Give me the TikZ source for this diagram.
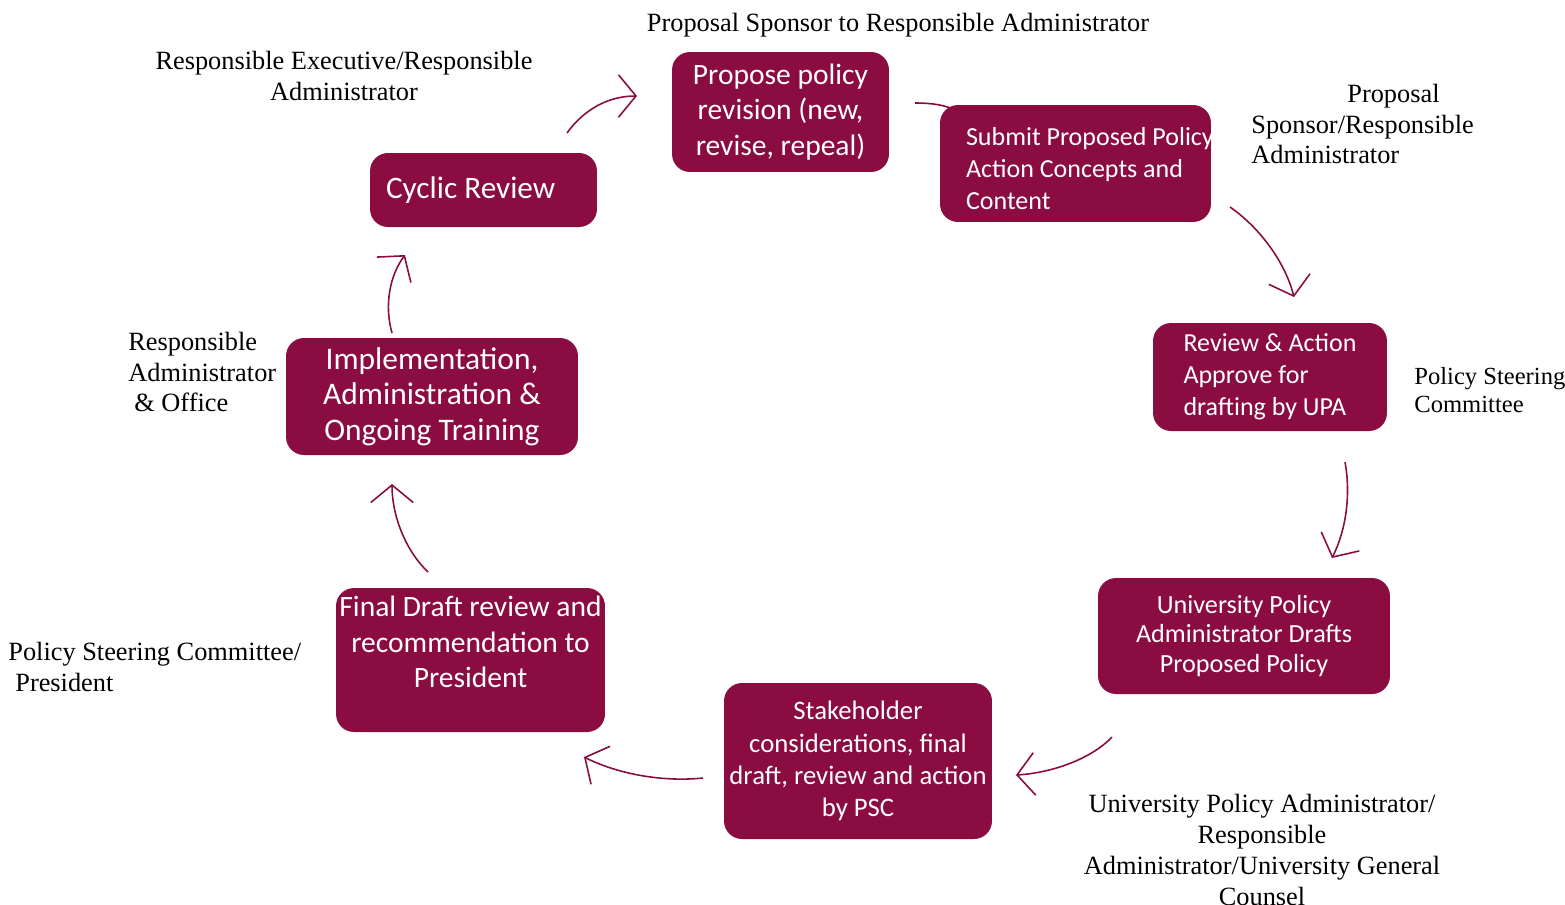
\documentclass[tikz,border=0pt]{standalone}
\usepackage{fontspec}
\setmainfont{Liberation Serif}
\newfontfamily\boxfont{Carlito}
\usetikzlibrary{arrows.meta}
\definecolor{upared}{RGB}{138,12,64}

\begin{document}
\begin{tikzpicture}[x=0.02cm,y=-0.02cm,
    stepbox/.style={rectangle,rounded corners=0.36cm,fill=upared,text=white,inner sep=0pt},
    flow/.style={draw=upared,line width=0.9pt,-{Straight Barb[length=0.35cm,width=0.85cm,line width=0.9pt]}},
    role/.style={inner sep=0pt,font=\fontsize{15}{17.6}\selectfont}]

      \useasboundingbox (0,0) rectangle (1565,904);

      \coordinate (link1) at (915,103);
      \coordinate (link2) at (955,110);
      \draw[draw=upared,line width=0.9pt] (link1) .. controls (932,103) and (945,105) .. (link2);

      \begin{scope}[every node/.style={stepbox}]
        \node (propose)     at (780.5,112)  [minimum width=4.34cm,minimum height=2.4cm,align=center,
                                             font=\boxfont\fontsize{16.8}{20.4}\selectfont]
                                            {Propose policy\\revision (new,\\revise, repeal)};
        \node (submit)      at (1075.5,163.5) [minimum width=5.42cm,minimum height=2.34cm,
                                             label={[text=white,align=left,text width=4.38cm,yshift=-0.1cm,
                                                     font=\boxfont\fontsize{14.8}{18.1}\selectfont]center:
                                                    \spaceskip=0pt\relax
                                                    \mbox{Submit Proposed Policy}\\\mbox{Action Concepts and}\\Content}]
                                            {};
        \node (review)      at (1270,377)   [minimum width=4.68cm,minimum height=2.16cm,align=left,
                                             font=\boxfont\fontsize{14.8}{18.2}\selectfont]
                                            {Review \& Action\\Approve for\\drafting by UPA};
        \node (drafts)      at (1244,636)   [minimum width=5.84cm,minimum height=2.32cm,align=center,
                                             font=\boxfont\fontsize{14.9}{16.8}\selectfont]
                                            {University Policy\\Administrator Drafts\\Proposed Policy};
        \node (stakeholder) at (858,761)    [minimum width=5.36cm,minimum height=3.12cm,align=center,
                                             font=\boxfont\fontsize{15.2}{18.3}\selectfont]
                                            {Stakeholder\\considerations, final\\draft, review and action\\by PSC};
        \node (final)       at (470.5,660)  [minimum width=5.38cm,minimum height=2.88cm,
                                             label={[text=white,align=center,yshift=0.36cm,
                                                     font=\boxfont\fontsize{16.8}{20.1}\selectfont]center:
                                                    Final Draft review and\\recommendation to\\President}]
                                            {};
        \node (implement)   at (432,396.5)  [minimum width=5.84cm,minimum height=2.34cm,align=center,
                                             font=\boxfont\fontsize{17.9}{20.1}\selectfont]
                                            {Implementation,\\Administration \&\\Ongoing Training};
        \node (cyclic)      at (483.5,190)  [minimum width=4.54cm,minimum height=1.48cm,align=left,text width=3.9cm,
                                             font=\boxfont\fontsize{17.8}{21}\selectfont]
                                            {\spaceskip=0pt\relax Cyclic Review};
      \end{scope}

      \begin{scope}[every node/.style={role}]
        \node (sponsor)   at (898,25)   {Proposal Sponsor to Responsible Administrator};
        \node (execadmin) at (344,76)   [align=center] {Responsible Executive/Responsible\\Administrator};
        \node (propadmin) at (1251,124) [anchor=west,align=left]
                                        {\hspace*{1.92cm}Proposal\\Sponsor/Responsible\\Administrator};
        \node (psc)       at (1414,390) [anchor=west,align=left,font=\fontsize{14}{15.9}\selectfont]
                                        {Policy Steering\\Committee};
        \node (office)    at (128,372)  [anchor=west,align=left]
                                        {Responsible\\Administrator\\\hspace*{0.12cm}\& Office};
        \node (president) at (8,667)    [anchor=west,align=left]
                                        {Policy Steering Committee/\\\hspace*{0.14cm}President};
        \node (counsel)   at (1262,850) [align=center]
                                        {University Policy Administrator/\\Responsible\\Administrator/University General\\Counsel};
      \end{scope}

      \coordinate (a1) at (567,133);  \coordinate (a2) at (637,96);
      \coordinate (c1) at (1230,207); \coordinate (c2) at (1294,297);
      \coordinate (d1) at (1345,462); \coordinate (d2) at (1332,558);
      \coordinate (e1) at (1112,737); \coordinate (e2) at (1016,775);
      \coordinate (f1) at (703,778);  \coordinate (f2) at (584,757);
      \coordinate (g1) at (428,572);  \coordinate (g2) at (392,484);
      \coordinate (h1) at (392,333);  \coordinate (h2) at (405,255);

      \draw[flow] (a1) .. controls (585,108) and (610,96) .. (a2);
      \draw[flow] (c1) .. controls (1260,228) and (1285,262) .. (c2);
      \draw[flow] (d1) .. controls (1351,495) and (1346,530) .. (d2);
      \draw[flow] (e1) .. controls (1090,760) and (1050,773) .. (e2);
      \draw[flow] (f1) .. controls (665,782) and (620,775) .. (f2);
      \draw[flow] (g1) .. controls (405,550) and (392,515) .. (g2);
      \draw[flow] (h1) .. controls (384,305) and (390,275) .. (h2);

    \end{tikzpicture}
\end{document}
